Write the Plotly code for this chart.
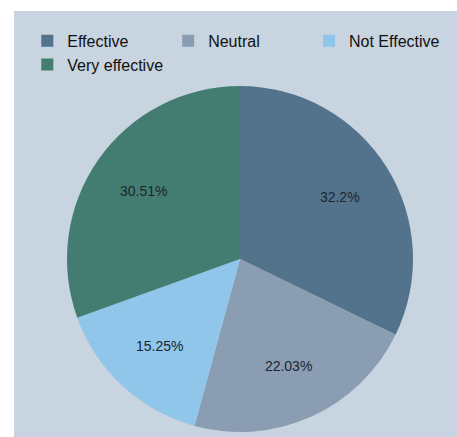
import plotly.graph_objects as go

labels = ["Effective", "Neutral", "Not Effective", "Very effective"]
counts = [19, 13, 9, 18]
colors = ["#52738b", "#8a9db2", "#8fc6ea", "#437d71"]
text_labels = ["32.2%", "22.03%", "15.25%", "30.51%"]

W, H = 457, 437
ml, mt = 14, 11
pw, ph = W - ml, H - mt
cx, cy, r = 240, 259, 173

domain = dict(x=[(cx - r - ml) / pw, (cx + r - ml) / pw],
              y=[(H - cy - r) / ph, (H - cy + r) / ph])

fig = go.Figure()
fig.add_trace(go.Pie(
    labels=labels,
    values=counts,
    textinfo="none",
    marker=dict(colors=colors, line=dict(width=0)),
    sort=False,
    direction="clockwise",
    rotation=0,
    domain=domain,
))
# transparent ring used only to position the percentage labels
fig.add_trace(go.Pie(
    labels=labels,
    values=counts,
    text=text_labels,
    textinfo="text",
    textposition="inside",
    insidetextorientation="horizontal",
    textfont=dict(family="Liberation Sans, Arial", size=14, color="#1b2630"),
    marker=dict(colors=["rgba(0,0,0,0)"] * len(labels), line=dict(width=0)),
    sort=False,
    direction="clockwise",
    rotation=0,
    hole=0.36,
    showlegend=False,
    hoverinfo="skip",
    domain=domain,
))

fig.add_shape(type="rect", xref="paper", yref="paper", x0=0, x1=1, y0=0, y1=1,
              fillcolor="#c8d4df", line=dict(width=0), layer="below")

fig.update_layout(
    width=W, height=H,
    margin=dict(l=ml, r=0, t=mt, b=0),
    paper_bgcolor="white",
    font=dict(family="Liberation Sans, Arial", size=16, color="#111111"),
    legend=dict(orientation="h", x=0.03, y=0.97, xanchor="left", yanchor="top",
                bgcolor="rgba(0,0,0,0)", traceorder="normal",
                font=dict(size=16), itemwidth=30, tracegroupgap=0),
    showlegend=True,
)

fig.write_html("out.html")
